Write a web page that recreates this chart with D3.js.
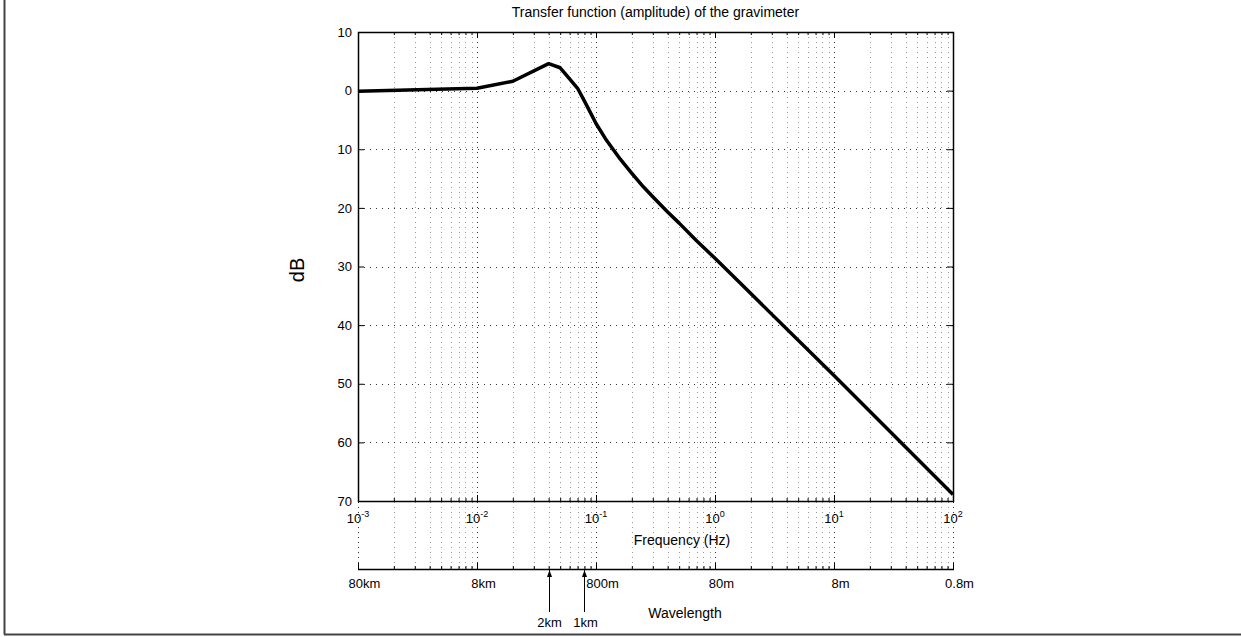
<!DOCTYPE html>
<html>
<head>
<meta charset="utf-8">
<title>Transfer function of the gravimeter</title>
<script src="https://cdn.jsdelivr.net/npm/d3@7"></script>
<style>
  body { margin: 0; background: #fff; }
  svg { font-family: "Liberation Sans", Arial, sans-serif; }
</style>
</head>
<body>
<div id="chart"></div>

<script>
// curve (frequency in Hz, gain in dB)
var freq = [0.001, 0.01, 0.02, 0.04, 0.05, 0.06, 0.07, 0.08, 0.09, 0.1, 0.12, 0.14, 0.16, 0.2,
            0.25, 0.3, 0.4, 0.5, 0.7, 1, 10, 100];
var gain = [-0.1, 0.4, 1.6, 4.6, 3.9, 2.0, 0.4, -1.8, -3.8, -5.6, -8.2, -10.1, -11.7, -14.1,
            -16.4, -18.1, -20.7, -22.6, -25.6, -28.6, -48.6, -68.9];

var yTicks = [10, 0, -10, -20, -30, -40, -50, -60, -70];
var decades = [-3, -2, -1, 0, 1, 2];
var waveLabels = ['80km', '8km', '800m', '80m', '8m', '0.8m'];
var markFreq = [0.04, 0.08];
var markLabels = ['2km', '1km'];

var W = 1241, H = 637;
var box = {left: 358, top: 32, right: 953, bottom: 501};
var waveY = 569;

var svg = d3.select('#chart').append('svg')
  .attr('width', W)
  .attr('height', H);

var x = d3.scaleLog().domain([1e-3, 1e2]).range([box.left, box.right]);
var y = d3.scaleLinear().domain([10, -70]).range([box.top, box.bottom]);

var majors = decades.map(function(e) { return Math.pow(10, e); });
var minors = [];
majors.slice(0, -1).forEach(function(m) {
  for (var k = 2; k < 10; k++) minors.push(m * k);
});

// outer frame (left and bottom edge)
svg.append('line').attr('x1', 4.5).attr('x2', 4.5).attr('y1', 0).attr('y2', 634.5)
  .attr('stroke', '#444').attr('stroke-width', 2);
svg.append('line').attr('x1', 4).attr('x2', W).attr('y1', 634.5).attr('y2', 634.5)
  .attr('stroke', '#444').attr('stroke-width', 2);

// grid
var grid = svg.append('g');
grid.selectAll('line.vmin')
  .data(minors).enter().append('line')
  .attr('x1', function(d) { return Math.round(x(d)) + 0.5; })
  .attr('x2', function(d) { return Math.round(x(d)) + 0.5; })
  .attr('y1', box.top).attr('y2', waveY)
  .attr('stroke', '#999').attr('stroke-dasharray', '1,4');
grid.selectAll('line.vmaj')
  .data(majors).enter().append('line')
  .attr('x1', function(d) { return Math.round(x(d)) + 0.5; })
  .attr('x2', function(d) { return Math.round(x(d)) + 0.5; })
  .attr('y1', box.top).attr('y2', waveY)
  .attr('stroke', '#333').attr('stroke-dasharray', '1,4');
grid.selectAll('line.h')
  .data(yTicks.slice(1, -1)).enter().append('line')
  .attr('x1', box.left).attr('x2', box.right)
  .attr('y1', function(d) { return Math.round(y(d)) + 0.5; })
  .attr('y2', function(d) { return Math.round(y(d)) + 0.5; })
  .attr('stroke', '#333').attr('stroke-dasharray', '1,5');

// axes, ticks pointing inward
function clean(g) {
  g.select('.domain').remove();
  g.selectAll('line').attr('stroke', '#000');
  g.selectAll('text').attr('font-size', 13).attr('fill', '#000');
}
svg.append('g').attr('transform', 'translate(' + box.left + ',0)')
  .call(d3.axisLeft(y).tickValues(yTicks).tickSizeInner(-6).tickSizeOuter(0).tickPadding(6)
    .tickFormat(function(d) { return Math.abs(d); }))
  .call(clean);
svg.append('g').attr('transform', 'translate(' + box.right + ',0)')
  .call(d3.axisRight(y).tickValues(yTicks).tickSizeInner(-6).tickSizeOuter(0).tickFormat(''))
  .call(clean);

[[box.bottom, d3.axisBottom], [box.top, d3.axisTop]].forEach(function(s) {
  svg.append('g').attr('transform', 'translate(0,' + s[0] + ')')
    .call(s[1](x).tickValues(majors).tickSizeInner(-6).tickSizeOuter(0).tickFormat(''))
    .call(clean);
  svg.append('g').attr('transform', 'translate(0,' + s[0] + ')')
    .call(s[1](x).tickValues(minors).tickSizeInner(-3).tickSizeOuter(0).tickFormat(''))
    .call(clean);
});

// frequency labels 10^n
var xl = svg.append('g').selectAll('text')
  .data(decades).enter().append('text')
  .attr('x', function(d) { return x(Math.pow(10, d)); })
  .attr('y', 523)
  .attr('text-anchor', 'middle')
  .attr('font-size', 13);
xl.append('tspan').text('10');
xl.append('tspan').attr('dy', -6).attr('font-size', 9).text(function(d) { return d; });

// plot box
svg.append('rect')
  .attr('x', box.left + 0.5).attr('y', box.top + 0.5)
  .attr('width', box.right - box.left).attr('height', box.bottom - box.top)
  .attr('fill', 'none').attr('stroke', '#000').attr('stroke-width', 1.5);

// curve
var line = d3.line()
  .x(function(d, i) { return x(freq[i]); })
  .y(function(d) { return y(d); });
svg.append('path')
  .datum(gain)
  .attr('d', line)
  .attr('fill', 'none')
  .attr('stroke', '#000')
  .attr('stroke-width', 3.5)
  .attr('stroke-linejoin', 'round');

// wavelength axis
var wave = svg.append('g').attr('transform', 'translate(0,' + waveY + ')');
wave.append('line').attr('x1', box.left).attr('x2', box.right + 1).attr('y1', 0.5).attr('y2', 0.5)
  .attr('stroke', '#000').attr('stroke-width', 1.5);
wave.append('g')
  .call(d3.axisBottom(x).tickValues(majors).tickSizeInner(-6).tickSizeOuter(0).tickPadding(10)
    .tickFormat(function(d, i) { return waveLabels[i]; }))
  .call(clean)
  .selectAll('text').attr('dx', 6);
wave.append('g')
  .call(d3.axisBottom(x).tickValues(minors).tickSizeInner(-3).tickSizeOuter(0).tickFormat(''))
  .call(clean);

// arrows for 2km / 1km
svg.append('defs').append('marker')
  .attr('id', 'head').attr('viewBox', '0 -3 7 6')
  .attr('refX', 7).attr('refY', 0)
  .attr('markerWidth', 7).attr('markerHeight', 6)
  .attr('markerUnits', 'userSpaceOnUse')
  .attr('orient', 'auto')
  .append('path').attr('d', 'M0,-2.5 L7,0 L0,2.5 Z').attr('fill', '#000');
svg.append('g').selectAll('line')
  .data(markFreq).enter().append('line')
  .attr('x1', function(d) { return Math.round(x(d)) + 0.5; })
  .attr('x2', function(d) { return Math.round(x(d)) + 0.5; })
  .attr('y1', 612).attr('y2', waveY + 1)
  .attr('stroke', '#000').attr('stroke-width', 1)
  .attr('marker-end', 'url(#head)');
svg.append('g').selectAll('text')
  .data(markFreq).enter().append('text')
  .attr('x', function(d) { return x(d) + 1; })
  .attr('y', 627)
  .attr('text-anchor', 'middle')
  .attr('font-size', 13)
  .text(function(d, i) { return markLabels[i]; });

// titles
svg.append('text')
  .attr('x', (box.left + box.right) / 2).attr('y', 17)
  .attr('text-anchor', 'middle').attr('font-size', 14)
  .text('Transfer function (amplitude) of the gravimeter');
svg.append('text')
  .attr('x', 682).attr('y', 545)
  .attr('text-anchor', 'middle').attr('font-size', 14)
  .text('Frequency (Hz)');
svg.append('text')
  .attr('x', 685).attr('y', 618)
  .attr('text-anchor', 'middle').attr('font-size', 14)
  .text('Wavelength');
svg.append('text')
  .attr('transform', 'translate(304,270) rotate(-90)')
  .attr('text-anchor', 'middle').attr('font-size', 20)
  .text('dB');
</script>
</body>
</html>
